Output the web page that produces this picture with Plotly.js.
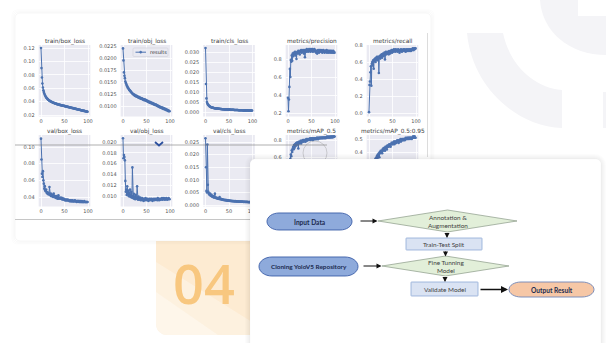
<!DOCTYPE html>
<html><head><meta charset="utf-8">
<script src="https://cdn.plot.ly/plotly-3.0.1.min.js"></script>
<style>html,body{margin:0;padding:0;background:#fff;overflow:hidden}</style>
</head><body><div id="chart" style="width:606px;height:343px"></div>
<script>
const W = 606, H = 343;

// ---------- data ----------
const epochs = Array.from({length: 100}, (_, i) => i);
const panelTitles = ['train/box_loss','train/obj_loss','train/cls_loss','metrics/precision','metrics/recall',
                     'val/box_loss','val/obj_loss','val/cls_loss','metrics/mAP_0.5','metrics/mAP_0.5:0.95'];
const legendLabel = 'results';

const trainBox = [0.1200,0.0900,0.0760,0.0670,0.0610,0.0570,0.0545,0.0522,0.0503,0.0488,
0.0475,0.0463,0.0453,0.0445,0.0437,0.0430,0.0424,0.0419,0.0414,0.0410,
0.0405,0.0401,0.0397,0.0393,0.0390,0.0386,0.0383,0.0381,0.0378,0.0375,
0.0372,0.0370,0.0368,0.0366,0.0363,0.0361,0.0359,0.0357,0.0355,0.0353,
0.0351,0.0349,0.0347,0.0346,0.0344,0.0342,0.0341,0.0339,0.0337,0.0336,
0.0334,0.0332,0.0330,0.0328,0.0327,0.0325,0.0323,0.0321,0.0320,0.0318,
0.0316,0.0314,0.0313,0.0311,0.0309,0.0307,0.0305,0.0304,0.0302,0.0300,
0.0298,0.0297,0.0295,0.0293,0.0291,0.0290,0.0288,0.0286,0.0284,0.0283,
0.0281,0.0279,0.0278,0.0276,0.0274,0.0272,0.0271,0.0269,0.0267,0.0266,
0.0264,0.0262,0.0261,0.0259,0.0257,0.0256,0.0254,0.0252,0.0251,0.0249];

const trainObj = [0.0220,0.0195,0.0170,0.0163,0.0158,0.0151,0.0148,0.0146,0.0143,0.0141,
0.0139,0.0137,0.0136,0.0134,0.0133,0.0132,0.0130,0.0130,0.0128,0.0127,
0.0126,0.0125,0.0125,0.0123,0.0124,0.0122,0.0121,0.0122,0.0120,0.0121,
0.0120,0.0119,0.0118,0.0119,0.0117,0.0118,0.0116,0.0117,0.0115,0.0116,
0.0116,0.0114,0.0115,0.0113,0.0114,0.0112,0.0114,0.0112,0.0113,0.0111,
0.0112,0.0110,0.0111,0.0109,0.0110,0.0108,0.0109,0.0107,0.0108,0.0106,
0.0107,0.0106,0.0105,0.0106,0.0104,0.0105,0.0103,0.0104,0.0102,0.0103,
0.0103,0.0101,0.0102,0.0100,0.0101,0.0099,0.0100,0.0098,0.0099,0.0097,
0.0098,0.0097,0.0096,0.0097,0.0095,0.0096,0.0094,0.0095,0.0094,0.0093,
0.0094,0.0092,0.0093,0.0091,0.0092,0.0090,0.0091,0.0089,0.0090,0.0089];

const trainCls = [0.0320,0.0140,0.0068,0.0050,0.0043,0.0038,0.0035,0.0032,0.0030,0.0028,
0.0026,0.0025,0.0024,0.0023,0.0022,0.0022,0.0021,0.0020,0.0020,0.0019,
0.0019,0.0018,0.0018,0.0018,0.0017,0.0017,0.0017,0.0016,0.0016,0.0016,
0.0016,0.0015,0.0015,0.0015,0.0015,0.0014,0.0014,0.0014,0.0014,0.0014,
0.0013,0.0013,0.0013,0.0013,0.0013,0.0013,0.0012,0.0012,0.0012,0.0012,
0.0012,0.0012,0.0012,0.0011,0.0011,0.0011,0.0011,0.0011,0.0011,0.0011,
0.0011,0.0010,0.0010,0.0010,0.0010,0.0010,0.0010,0.0010,0.0010,0.0010,
0.0009,0.0009,0.0009,0.0009,0.0009,0.0009,0.0009,0.0009,0.0009,0.0009,
0.0008,0.0008,0.0008,0.0008,0.0008,0.0008,0.0008,0.0008,0.0008,0.0008,
0.0008,0.0007,0.0007,0.0007,0.0007,0.0007,0.0007,0.0007,0.0007,0.0007];

const precision = [0.37,0.22,0.35,0.49,0.69,0.60,0.79,0.77,0.84,0.78,
0.86,0.83,0.87,0.85,0.86,0.88,0.84,0.87,0.80,0.87,
0.88,0.86,0.89,0.87,0.88,0.85,0.89,0.88,0.90,0.87,
0.89,0.88,0.90,0.89,0.86,0.90,0.82,0.89,0.90,0.88,
0.91,0.89,0.90,0.88,0.90,0.91,0.89,0.90,0.88,0.91,
0.90,0.89,0.91,0.88,0.90,0.89,0.91,0.90,0.88,0.89,
0.87,0.89,0.86,0.88,0.90,0.89,0.87,0.90,0.88,0.89,
0.90,0.88,0.89,0.87,0.89,0.90,0.88,0.89,0.87,0.88,
0.89,0.88,0.90,0.87,0.89,0.88,0.89,0.87,0.88,0.89,
0.88,0.87,0.89,0.88,0.87,0.88,0.89,0.87,0.88,0.87];

const recall = [0.01,0.33,0.37,0.48,0.55,0.32,0.58,0.60,0.56,0.62,
0.52,0.63,0.61,0.64,0.60,0.65,0.63,0.66,0.62,0.64,
0.66,0.47,0.65,0.67,0.64,0.68,0.66,0.69,0.65,0.68,
0.70,0.67,0.69,0.71,0.63,0.70,0.72,0.69,0.71,0.70,
0.72,0.71,0.69,0.73,0.72,0.70,0.73,0.72,0.74,0.71,
0.73,0.74,0.72,0.75,0.73,0.74,0.72,0.75,0.74,0.73,
0.74,0.72,0.75,0.73,0.74,0.71,0.74,0.73,0.75,0.74,
0.72,0.74,0.73,0.75,0.74,0.73,0.75,0.74,0.72,0.74,
0.75,0.73,0.74,0.75,0.74,0.73,0.75,0.74,0.75,0.73,
0.74,0.75,0.74,0.76,0.75,0.74,0.76,0.75,0.76,0.76];

const valBox = [0.110,0.085,0.068,0.064,0.071,0.060,0.056,0.050,0.053,0.048,
0.047,0.049,0.045,0.046,0.044,0.045,0.043,0.044,0.052,0.043,
0.042,0.044,0.041,0.043,0.042,0.041,0.040,0.044,0.041,0.040,
0.040,0.039,0.041,0.039,0.040,0.038,0.039,0.042,0.038,0.039,
0.039,0.038,0.039,0.038,0.039,0.037,0.038,0.037,0.038,0.037,
0.037,0.036,0.037,0.036,0.037,0.036,0.036,0.037,0.036,0.036,
0.036,0.035,0.036,0.035,0.036,0.035,0.035,0.036,0.035,0.035,
0.035,0.035,0.036,0.035,0.035,0.035,0.034,0.035,0.035,0.035,
0.035,0.034,0.035,0.034,0.035,0.034,0.034,0.035,0.034,0.034,
0.034,0.034,0.035,0.034,0.034,0.034,0.034,0.034,0.034,0.034];

const valObj = [0.0207,0.0170,0.0176,0.0172,0.0166,0.0128,0.0108,0.0112,0.0102,0.0118,
0.0104,0.0110,0.0100,0.0106,0.0099,0.0112,0.0101,0.0098,0.0108,0.0097,
0.0153,0.0100,0.0096,0.0104,0.0095,0.0099,0.0094,0.0102,0.0095,0.0097,
0.0118,0.0096,0.0093,0.0099,0.0094,0.0096,0.0093,0.0097,0.0092,0.0095,
0.0093,0.0096,0.0092,0.0094,0.0091,0.0095,0.0093,0.0092,0.0096,0.0093,
0.0094,0.0092,0.0095,0.0093,0.0091,0.0094,0.0092,0.0095,0.0093,0.0094,
0.0092,0.0095,0.0093,0.0091,0.0094,0.0093,0.0095,0.0092,0.0094,0.0093,
0.0095,0.0093,0.0094,0.0092,0.0096,0.0093,0.0094,0.0092,0.0095,0.0094,
0.0093,0.0095,0.0094,0.0096,0.0093,0.0095,0.0094,0.0096,0.0095,0.0093,
0.0095,0.0094,0.0096,0.0095,0.0093,0.0095,0.0094,0.0096,0.0095,0.0094];

const valCls = [0.0265,0.0150,0.0056,0.0050,0.0240,0.0080,0.0052,0.0046,0.0043,0.0040,
0.0045,0.0038,0.0036,0.0040,0.0034,0.0033,0.0036,0.0031,0.0030,0.0032,
0.0045,0.0029,0.0028,0.0030,0.0027,0.0026,0.0028,0.0025,0.0026,0.0024,
0.0032,0.0024,0.0023,0.0025,0.0022,0.0023,0.0021,0.0022,0.0020,0.0021,
0.0020,0.0019,0.0021,0.0019,0.0018,0.0020,0.0018,0.0017,0.0019,0.0017,
0.0017,0.0018,0.0016,0.0017,0.0016,0.0017,0.0015,0.0016,0.0016,0.0015,
0.0016,0.0015,0.0014,0.0016,0.0015,0.0014,0.0015,0.0014,0.0014,0.0015,
0.0014,0.0013,0.0014,0.0014,0.0013,0.0014,0.0013,0.0013,0.0014,0.0013,
0.0013,0.0012,0.0013,0.0013,0.0012,0.0013,0.0012,0.0012,0.0013,0.0012,
0.0012,0.0012,0.0011,0.0012,0.0012,0.0011,0.0012,0.0011,0.0011,0.0011];

const mAP50 = [0.05,0.22,0.38,0.47,0.53,0.58,0.63,0.61,0.68,0.66,
0.70,0.72,0.69,0.74,0.71,0.75,0.73,0.76,0.74,0.77,
0.75,0.77,0.70,0.78,0.76,0.78,0.77,0.79,0.76,0.79,
0.78,0.79,0.80,0.78,0.80,0.79,0.80,0.78,0.80,0.81,
0.79,0.80,0.81,0.80,0.81,0.80,0.81,0.82,0.80,0.81,
0.82,0.81,0.82,0.80,0.82,0.81,0.82,0.81,0.82,0.82,
0.81,0.82,0.83,0.82,0.81,0.82,0.83,0.82,0.82,0.83,
0.82,0.83,0.82,0.83,0.82,0.83,0.83,0.82,0.83,0.83,
0.82,0.83,0.83,0.84,0.83,0.83,0.84,0.83,0.83,0.84,
0.83,0.84,0.83,0.84,0.84,0.83,0.84,0.84,0.84,0.84];

const mAP5095 = [0.01,0.06,0.12,0.17,0.20,0.23,0.26,0.27,0.29,0.30,
0.32,0.33,0.32,0.34,0.35,0.34,0.36,0.37,0.35,0.38,
0.37,0.39,0.36,0.40,0.39,0.41,0.40,0.41,0.39,0.42,
0.41,0.43,0.42,0.43,0.41,0.44,0.43,0.44,0.42,0.45,
0.44,0.45,0.44,0.46,0.45,0.46,0.44,0.46,0.47,0.46,
0.47,0.46,0.47,0.48,0.46,0.48,0.47,0.48,0.47,0.48,
0.49,0.48,0.49,0.47,0.49,0.48,0.49,0.50,0.48,0.49,
0.50,0.49,0.50,0.49,0.50,0.50,0.49,0.50,0.51,0.50,
0.50,0.51,0.50,0.51,0.50,0.51,0.51,0.50,0.51,0.51,
0.51,0.50,0.51,0.51,0.52,0.51,0.51,0.52,0.51,0.51];

const series = [trainBox, trainObj, trainCls, precision, recall, valBox, valObj, valCls, mAP50, mAP5095];

const xTickVals = [0, 50, 100];
const xTickText = ['0', '50', '100'];
const yTickVals = [
  [0.02,0.04,0.06,0.08,0.10,0.12],
  [0.0100,0.0125,0.0150,0.0175,0.0200,0.0225],
  [0,0.005,0.010,0.015,0.020,0.025,0.030],
  [0.2,0.4,0.6,0.8],
  [0,0.2,0.4,0.6,0.8],
  [0.04,0.06,0.08,0.10],
  [0.010,0.012,0.014,0.016,0.018,0.020],
  [0,0.005,0.010,0.015,0.020,0.025],
  [0,0.2,0.4,0.6,0.8],
  [0,0.1,0.2,0.3,0.4,0.5]
];
const yTickText = [
  ['0.02','0.04','0.06','0.08','0.10','0.12'],
  ['0.0100','0.0125','0.0150','0.0175','0.0200','0.0225'],
  ['0.000','0.005','0.010','0.015','0.020','0.025','0.030'],
  ['0.2','0.4','0.6','0.8'],
  ['0.0','0.2','0.4','0.6','0.8'],
  ['0.04','0.06','0.08','0.10'],
  ['0.010','0.012','0.014','0.016','0.018','0.020'],
  ['0.000','0.005','0.010','0.015','0.020','0.025'],
  ['0.0','0.2','0.4','0.6','0.8'],
  ['0.0','0.1','0.2','0.3','0.4','0.5']
];

const flowLabels = {
  input: '<b>Input Data</b>',
  annot: 'Annotation &amp;<br>Augmentation',
  split: 'Train-Test Split',
  tune: 'Fine Tunning<br>Model',
  clone: '<b>Cloning YoloV5 Repository</b>',
  validate: 'Validate Model',
  output: '<b>Output Result</b>'
};
const badgeText = '04';

// ---------- layout helpers ----------
const PX = x => x / W, PY = y => 1 - y / H;
function P(x, y) { return PX(x).toFixed(5) + ',' + PY(y).toFixed(5); }
function roundRect(x0, y0, x1, y1, r) {
  const k = 0.5523;
  const R = r.map(v => Array.isArray(v) ? v : [v, v]);
  let d = 'M ' + P(x0 + R[0][0], y0) + ' L ' + P(x1 - R[1][0], y0);
  if (R[1][0]) d += ' C ' + P(x1 - R[1][0] + k * R[1][0], y0) + ' ' + P(x1, y0 + R[1][1] - k * R[1][1]) + ' ' + P(x1, y0 + R[1][1]);
  d += ' L ' + P(x1, y1 - R[2][1]);
  if (R[2][0]) d += ' C ' + P(x1, y1 - R[2][1] + k * R[2][1]) + ' ' + P(x1 - R[2][0] + k * R[2][0], y1) + ' ' + P(x1 - R[2][0], y1);
  d += ' L ' + P(x0 + R[3][0], y1);
  if (R[3][0]) d += ' C ' + P(x0 + R[3][0] - k * R[3][0], y1) + ' ' + P(x0, y1 - R[3][1] + k * R[3][1]) + ' ' + P(x0, y1 - R[3][1]);
  d += ' L ' + P(x0, y0 + R[0][1]);
  if (R[0][0]) d += ' C ' + P(x0, y0 + R[0][1] - k * R[0][1]) + ' ' + P(x0 + R[0][0] - k * R[0][0], y0) + ' ' + P(x0 + R[0][0], y0);
  return d + ' Z';
}
function stadium(x0, y0, x1, y1, rx) { const ry = (y1 - y0) / 2; return roundRect(x0, y0, x1, y1, [[rx, ry], [rx, ry], [rx, ry], [rx, ry]]); }
function diamond(x0, y0, x1, y1) {
  const cx = (x0 + x1) / 2, cy = (y0 + y1) / 2;
  return 'M ' + P(x0, cy) + ' L ' + P(cx, y0) + ' L ' + P(x1, cy) + ' L ' + P(cx, y1) + ' Z';
}
function pathShape(path, fill, lineColor, lineWidth, layer) {
  return {type: 'path', xref: 'paper', yref: 'paper', path: path, fillcolor: fill,
          line: {color: lineColor, width: lineWidth}, layer: layer};
}
function lineShape(x0, y0, x1, y1, color, width, layer) {
  return {type: 'line', xref: 'paper', yref: 'paper', x0: PX(x0), y0: PY(y0), x1: PX(x1), y1: PY(y1),
          line: {color: color, width: width}, layer: layer};
}

// ---------- subplots ----------
const colX0 = [41, 123, 205.5, 288, 369];     // pixel of epoch 0 per column
const pxPerEpoch = 0.47;
const rowTop = [45, 135], rowBot = [116.5, 206.5];
// reference tick pixel positions (value, y) used to set each y range
const refTicks = [
  [0.12, 48, 0.02, 115], [0.0225, 46, 0.0100, 106], [0.030, 52, 0.000, 112], [0.8, 59, 0.2, 113], [0.8, 45, 0.0, 113],
  [0.10, 147, 0.04, 197], [0.020, 142, 0.010, 196], [0.025, 142, 0.000, 205], [0.8, 140, 0.6, 157], [0.5, 139, 0.4, 152]
];

const FONT = 'DejaVu Sans';
const traces = [];
const layout = {
  width: W, height: H, autosize: false,
  margin: {l: 0, r: 0, t: 0, b: 0, pad: 0},
  paper_bgcolor: '#ffffff', plot_bgcolor: '#eaeaf2',
  showlegend: false,
  font: {family: FONT, size: 5, color: '#555'},
  shapes: [], annotations: []
};

series.forEach((ys, i) => {
  const r = Math.floor(i / 5), c = i % 5;
  const xid = i === 0 ? 'x' : 'x' + (i + 1), yid = i === 0 ? 'y' : 'y' + (i + 1);
  const xname = i === 0 ? 'xaxis' : 'xaxis' + (i + 1), yname = i === 0 ? 'yaxis' : 'yaxis' + (i + 1);
  const [v1, p1, v2, p2] = refTicks[i];
  const k = (v1 - v2) / (p2 - p1);
  const hi = v1 + (p1 - rowTop[r]) * k, lo = v2 - (rowBot[r] - p2) * k;
  layout[xname] = {
    domain: [(colX0[c] - 5 * pxPerEpoch) / W, (colX0[c] + 105 * pxPerEpoch) / W],
    range: [-5, 105], anchor: yid, tickvals: xTickVals, ticktext: xTickText,
    showgrid: true, gridcolor: '#ffffff', gridwidth: 0.8, zeroline: false, showline: false, ticks: '',
    tickfont: {family: FONT, size: 5, color: '#555'}, ticklabelstandoff: 0
  };
  layout[yname] = {
    domain: [1 - rowBot[r] / H, 1 - rowTop[r] / H],
    range: [lo, hi], anchor: xid, tickvals: yTickVals[i], ticktext: yTickText[i],
    showgrid: true, gridcolor: '#ffffff', gridwidth: 0.8, zeroline: false, showline: false, ticks: '',
    tickfont: {family: FONT, size: 5, color: '#555'}, ticklabelstandoff: 3
  };
  traces.push({
    x: epochs, y: ys, xaxis: xid, yaxis: yid, name: legendLabel, type: 'scatter',
    mode: 'lines+markers', line: {color: '#4c72b0', width: 1}, marker: {color: '#4c72b0', size: 2.6},
    hoverinfo: 'skip', showlegend: false
  });
  layout.annotations.push({
    xref: 'paper', yref: 'paper', x: (colX0[c] + 50 * pxPerEpoch) / W, y: PY(r === 0 ? 41 : 131),
    text: panelTitles[i], showarrow: false, xanchor: 'center', yanchor: 'middle',
    font: {family: FONT, size: 5.8, color: '#3c3c3c'}
  });
});

const S = layout.shapes, A = layout.annotations;

// faint background logo (top right)
S.push(pathShape('M ' + P(467, 33) + ' L ' + P(503, 33) + ' C ' + P(510, 66) + ' ' + P(535, 88) + ' ' + P(562, 90) +
  ' L ' + P(562, 128) + ' C ' + P(515, 126) + ' ' + P(472, 86) + ' ' + P(467, 33) + ' Z', '#f4f4f7', 'rgba(0,0,0,0)', 0, 'below'));
S.push(pathShape('M ' + P(540, 0) + ' C ' + P(542, 32) + ' ' + P(570, 55) + ' ' + P(606, 55) + ' L ' + P(606, 0) + ' Z', '#f4f4f7', 'rgba(0,0,0,0)', 0, 'below'));
S.push(pathShape(roundRect(578, -2, 606, 16, [0, 0, 0, 0]), '#ffffff', 'rgba(0,0,0,0)', 0, 'below'));
S.push(pathShape(roundRect(603, 92, 608, 128, [0, 0, 0, 0]), '#f4f4f7', 'rgba(0,0,0,0)', 0, 'below'));

// orange "04" badge
S.push(pathShape(roundRect(156, 241, 252, 335, [0, 0, 0, [11, 11]]), '#fdebd2', 'rgba(0,0,0,0)', 0, 'below'));
S.push(pathShape('M ' + P(156, 262) + ' L ' + P(156, 324) + ' C ' + P(156, 330) + ' ' + P(161, 335) + ' ' + P(167, 335) + ' L ' + P(252, 335) + ' L ' + P(252, 322) + ' Z', 'rgba(255,255,255,0.3)', 'rgba(0,0,0,0)', 0, 'below'));
S.push(pathShape('M ' + P(156, 292) + ' L ' + P(156, 324) + ' C ' + P(156, 330) + ' ' + P(161, 335) + ' ' + P(167, 335) + ' L ' + P(218, 335) + ' Z', 'rgba(255,255,255,0.35)', 'rgba(0,0,0,0)', 0, 'below'));
A.push({xref: 'paper', yref: 'paper', x: PX(204), y: PY(283), text: badgeText, showarrow: false,
  xanchor: 'center', yanchor: 'middle', font: {family: 'Open Sans', size: 54, weight: 600, color: '#f8c77f'}});

// chart card (shadow outlines only so the plots stay visible)
for (let i = 4; i >= 1; i--) {
  S.push(pathShape(roundRect(15 - i + 1, 12 - i + 2, 431 + i - 1, 240 + i, [5, 5, 5, 5]), 'rgba(0,0,0,0)', 'rgba(0,0,0,' + (0.014 + 0.007 * (4 - i)) + ')', 1, 'below'));
}
S.push(lineShape(427.5, 33, 427.5, 157, '#dcdcdc', 1, 'above'));
S.push(lineShape(15, 219.5, 252, 219.5, '#c6c6c6', 1, 'above'));
S.push(lineShape(15, 145, 327, 145, 'rgba(110,110,110,0.55)', 1, 'above'));
S.push({type: 'circle', xref: 'paper', yref: 'paper', x0: PX(303), x1: PX(327), y0: PY(165), y1: PY(141),
  line: {color: 'rgba(140,140,140,0.45)', width: 0.8}, fillcolor: 'rgba(0,0,0,0)', layer: 'above'});
S.push(pathShape('M ' + P(155, 142) + ' L ' + P(159, 145.5) + ' L ' + P(163, 142), 'rgba(0,0,0,0)', '#2b4f9e', 1.8, 'above'));

// legend of train/obj_loss
S.push(pathShape(roundRect(133, 48, 168, 56.5, [1, 1, 1, 1]), 'rgba(234,234,242,0.85)', '#d0d0d8', 0.6, 'above'));
S.push(lineShape(135.5, 52.2, 146, 52.2, '#4c72b0', 1, 'above'));
S.push({type: 'circle', xref: 'paper', yref: 'paper', x0: PX(139.6), x1: PX(141.8), y0: PY(53.3), y1: PY(51.1),
  line: {color: '#4c72b0', width: 0.5}, fillcolor: '#4c72b0', layer: 'above'});
A.push({xref: 'paper', yref: 'paper', x: PX(148), y: PY(52.2), text: legendLabel, showarrow: false,
  xanchor: 'left', yanchor: 'middle', font: {family: FONT, size: 5, color: '#333'}});

// flowchart card
for (let i = 5; i >= 1; i--) {
  S.push(pathShape(roundRect(250 - i, 159 - i, 601 + i, 360, [6 + i, 6 + i, 0, 0]), 'rgba(0,0,0,0.012)', 'rgba(0,0,0,0)', 0, 'above'));
}
S.push(pathShape(roundRect(250, 159, 601, 360, [5, 5, 0, 0]), '#ffffff', 'rgba(0,0,0,0.04)', 0.6, 'above'));

// flowchart nodes
const blueFill = '#8eaadb', blueLine = '#3b5ea8';
S.push(pathShape(stadium(267, 213, 352, 230, 12), blueFill, blueLine, 0.9, 'above'));
S.push(pathShape(stadium(259, 257, 358, 276, 13), blueFill, blueLine, 0.9, 'above'));
S.push(pathShape(stadium(509, 282, 594, 297, 12), '#f6c7a6', '#6f86b8', 0.9, 'above'));
S.push(pathShape(diamond(378, 210, 517, 232), '#e2efd9', '#8a9a86', 0.7, 'above'));
S.push(pathShape(diamond(382, 256, 509, 276), '#e2efd9', '#8a9a86', 0.7, 'above'));
S.push(pathShape(roundRect(406, 238, 482, 250, [0.5, 0.5, 0.5, 0.5]), '#dae3f3', '#8ea9d6', 0.8, 'above'));
S.push(pathShape(roundRect(411, 282, 478, 296, [0.5, 0.5, 0.5, 0.5]), '#dae3f3', '#8ea9d6', 0.8, 'above'));

const FF = 'Lato';
function label(x, y, t, size, color) {
  A.push({xref: 'paper', yref: 'paper', x: PX(x), y: PY(y), text: t, showarrow: false, xanchor: 'center', yanchor: 'middle',
    font: {family: FF, size: size, color: color}});
}
label(309.5, 221.5, flowLabels.input, 6.6, '#1c2b4f');
label(447.5, 221, flowLabels.annot, 6.4, '#404040');
label(444, 244, flowLabels.split, 6.4, '#404040');
label(445.5, 266, flowLabels.tune, 6.4, '#404040');
label(308.5, 266.5, flowLabels.clone, 6.4, '#1c2b4f');
label(444.5, 289.5, flowLabels.validate, 6.4, '#404040');
label(551.5, 289.5, flowLabels.output, 6.6, '#1c2b4f');

function arrow(x0, y0, x1, y1, w) {
  A.push({xref: 'paper', yref: 'paper', x: PX(x1), y: PY(y1), ax: x0 - x1, ay: y0 - y1, axref: 'pixel', ayref: 'pixel',
    text: '', showarrow: true, arrowhead: 2, arrowsize: 1, arrowwidth: w, arrowcolor: '#111'});
}
arrow(359, 221, 377.5, 221, 1);
arrow(447, 232, 447, 238, 1);
arrow(445.5, 250, 445.5, 256.5, 1);
arrow(362, 266, 381.5, 266, 1);
arrow(445, 276, 445, 282, 1);
arrow(479, 289.5, 508, 289.5, 1.4);

Plotly.newPlot('chart', traces, layout, {staticPlot: true, displayModeBar: false});
</script>
</body></html>
